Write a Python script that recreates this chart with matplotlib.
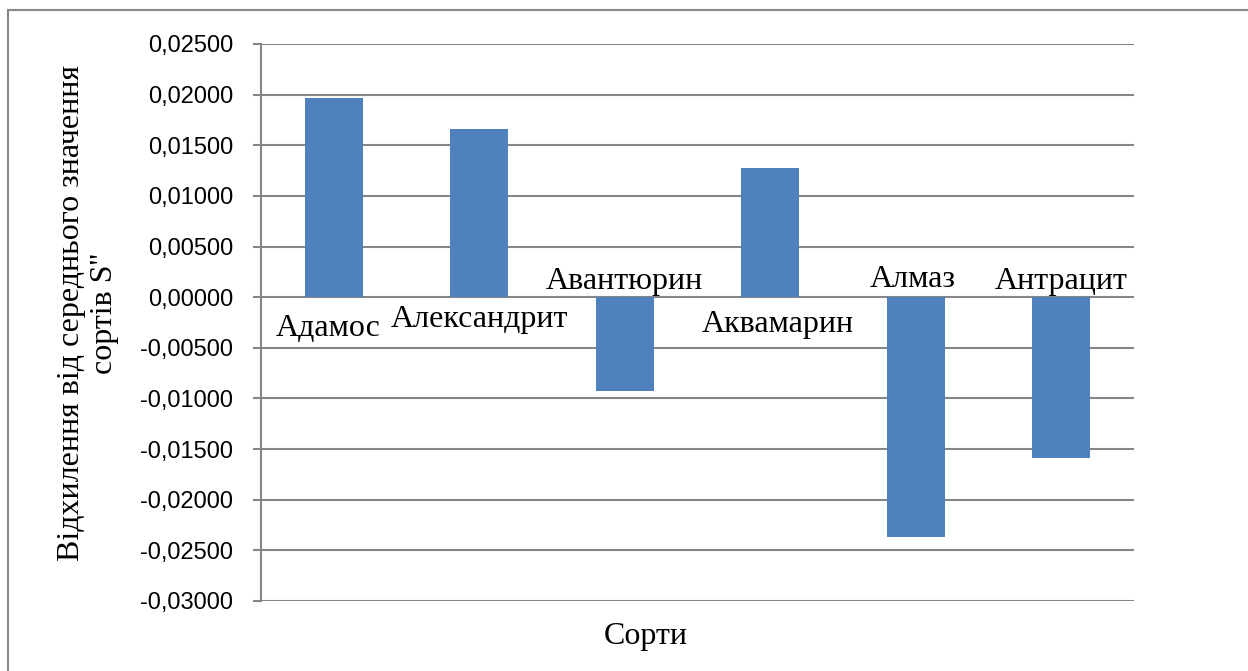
import matplotlib
matplotlib.use("Agg")
import matplotlib.pyplot as plt
from matplotlib.patches import Rectangle
from matplotlib.ticker import FuncFormatter

# ---- data ----
categories = ["Адамос", "Александрит", "Авантюрин", "Аквамарин", "Алмаз", "Антрацит"]
values = [0.01969, 0.0166, -0.00929, 0.01275, -0.02369, -0.01588]
y_ticks = [-0.03, -0.025, -0.02, -0.015, -0.01, -0.005, 0.0, 0.005, 0.01, 0.015, 0.02, 0.025]
y_label = "Відхилення від середнього значення\nсортів S''"
x_label = "Сорти"

# ---- style / layout ----
W, H = 1248, 671
DPI = 100
bar_color = "#4F81BD"
grid_color = "#868686"
serif = ["Liberation Serif", "DejaVu Serif"]
sans = ["Liberation Sans", "DejaVu Sans"]
# label offsets in pixels (dx, dy of baseline) relative to (category, 0)
label_offsets = [(-6, -39), (0, -30), (0, 8), (8, -35), (-3, 10), (0, 8)]

fig = plt.figure(figsize=(W / DPI, H / DPI), dpi=DPI)
fig.patch.set_facecolor("white")

left, right, top, bottom = 261, 1134, 44, 601
ax = fig.add_axes([left / W, 1 - bottom / H, (right - left) / W, (bottom - top) / H])

x = list(range(len(categories)))
ax.bar(x, values, width=0.4, color=bar_color, zorder=3)

ax.set_xlim(-0.5, len(categories) - 0.5)
ax.set_ylim(min(y_ticks), max(y_ticks))
ax.set_yticks(y_ticks)
ax.yaxis.set_major_formatter(FuncFormatter(lambda v, p: f"{v:.5f}".replace(".", ",").replace("-0,00000", "0,00000")))
ax.set_xticks([])

ax.grid(axis="y", color=grid_color, linewidth=1.5, zorder=0)
ax.set_axisbelow(True)
for s in ["top", "right", "bottom"]:
    ax.spines[s].set_visible(False)
ax.spines["left"].set_color(grid_color)
ax.spines["left"].set_linewidth(1.5)
ax.tick_params(axis="y", direction="out", length=6, width=1.5, color=grid_color,
               pad=14, labelsize=17, labelcolor="black")
for t in ax.get_yticklabels():
    t.set_fontfamily(sans)

for i, (name, (dx, dy)) in enumerate(zip(categories, label_offsets)):
    ax.annotate(name, xy=(i, 0), xytext=(dx, dy), textcoords="offset pixels",
                ha="center", va="baseline", fontsize=23, family=serif, zorder=5)

fig.text(88 / W, 1 - 313 / H, y_label, rotation=90, ha="center", va="center",
         multialignment="center", fontsize=23, family=serif, linespacing=1.2)
fig.text(646 / W, 1 - 644 / H, x_label, ha="center", va="baseline",
         fontsize=23, family=serif)

frame = Rectangle((8 / W, -0.1), 1.2, 1.1 - 10 / H, transform=fig.transFigure,
                  fill=False, edgecolor="#898989", linewidth=1.5)
fig.patches.append(frame)

fig.savefig("out.png", dpi=DPI)
